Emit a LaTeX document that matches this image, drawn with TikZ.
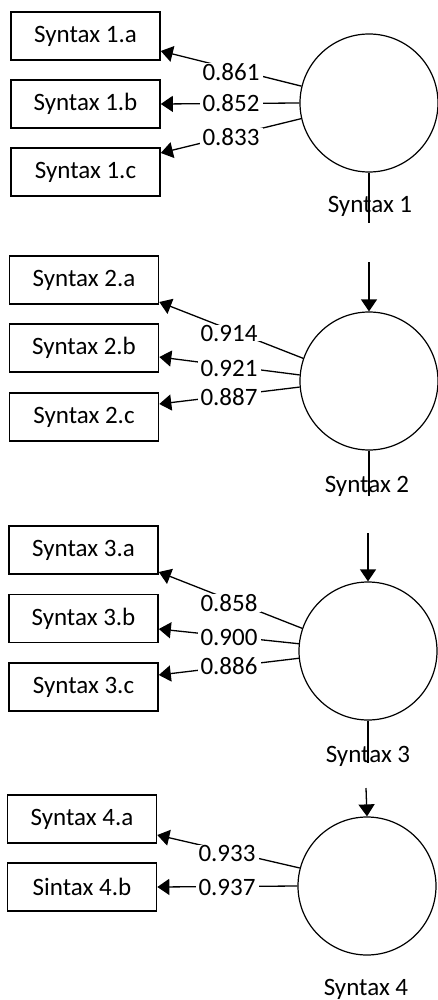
\documentclass[tikz,border=0pt]{standalone}
\usepackage{fontspec}
\setmainfont{Carlito}
\usetikzlibrary{arrows.meta,calc}
\begin{document}
\begin{tikzpicture}[x=1pt,y=-1pt,
  every node/.style={font=\fontsize{25}{28}\selectfont},
  indbox/.style={draw,line width=1.6pt,minimum width=149pt,minimum height=48pt,inner sep=0pt},
  latcirc/.style={draw,circle,line width=1.2pt,minimum size=138pt,inner sep=0pt},
  loadarr/.style={line width=1.3pt,-{Triangle[length=12pt,width=16pt]}},
  coeflbl/.style={fill=white,inner xsep=3pt,inner ysep=0pt},
  vline/.style={line width=1.3pt},
  varr/.style={line width=1.3pt,-{Triangle[length=12pt,width=16pt]}},
  latname/.style={inner sep=0pt}]
\useasboundingbox (0,0) rectangle (437,1000);
% ---------- group 1
\node[indbox] (b1a) at (85.5,36) {Syntax 1.a};
\node[indbox] (b1b) at (85.5,104) {Syntax 1.b};
\node[indbox] (b1c) at (85.5,172) {Syntax 1.c};
\node[latcirc] (c1) at (369,103) {};
\draw[loadarr] (c1.166) -- ($(b1a.east)+(0,15)$);
\draw[loadarr] (c1.west) -- (b1b.east);
\draw[loadarr] (c1.193) -- ($(b1c.east)+(0,-19)$);
\node[coeflbl] (l1a) at (231,72) {0.861};
\node[coeflbl] (l1b) at (231,103) {0.852};
\node[coeflbl] (l1c) at (231,137) {0.833};
\node[latname] (n1) at (370,206) {Syntax 1};
\coordinate (e1) at (369,223);
\draw[vline] (c1.south) -- (e1);
% ---------- group 2
\node[indbox] (b2a) at (84,280) {Syntax 2.a};
\node[indbox] (b2b) at (84,348) {Syntax 2.b};
\node[indbox] (b2c) at (84,417) {Syntax 2.c};
\node[latcirc] (c2) at (369,381) {};
\coordinate (t2) at (369,262);
\draw[varr] (t2) -- (c2.north);
\draw[loadarr] (c2.161) -- ($(b2a.east)+(0,22)$);
\draw[loadarr] (c2.175) -- ($(b2b.east)+(0,9)$);
\draw[loadarr] (c2.185) -- ($(b2c.east)+(0,-13)$);
\node[coeflbl] (l2a) at (229,333) {0.914};
\node[coeflbl] (l2b) at (229,368) {0.921};
\node[coeflbl] (l2c) at (229,397) {0.887};
\node[latname] (n2) at (367,486) {Syntax 2};
\coordinate (e2) at (369,496);
\draw[vline] (c2.south) -- (e2);
% ---------- group 3
\node[indbox] (b3a) at (83.5,550) {Syntax 3.a};
\node[indbox] (b3b) at (83.5,618.5) {Syntax 3.b};
\node[indbox] (b3c) at (83.5,687) {Syntax 3.c};
\node[latcirc] (c3) at (368,651) {};
\coordinate (t3) at (368,533);
\draw[varr] (t3) -- (c3.north);
\draw[loadarr] (c3.161) -- ($(b3a.east)+(0,22)$);
\draw[loadarr] (c3.174) -- ($(b3b.east)+(0,10.5)$);
\draw[loadarr] (c3.186) -- ($(b3c.east)+(0,-12)$);
\node[coeflbl] (l3a) at (229,603) {0.858};
\node[coeflbl] (l3b) at (229,637) {0.900};
\node[coeflbl] (l3c) at (229,666) {0.886};
\node[latname] (n3) at (368,756) {Syntax 3};
\coordinate (e3) at (368,763);
\draw[vline] (c3.south) -- (e3);
% ---------- group 4
\node[indbox] (b4a) at (82,819) {Syntax 4.a};
\node[indbox] (b4b) at (82,887) {Sintax 4.b};
\node[latcirc] (c4) at (367,886) {};
\coordinate (t4) at (366,788);
\draw[varr] (t4) -- (c4.north);
\draw[loadarr] (c4.165) -- ($(b4a.east)+(0,16)$);
\draw[loadarr] (c4.west) -- (b4b.east);
\node[coeflbl] (l4a) at (227,853) {0.933};
\node[coeflbl] (l4b) at (227,887) {0.937};
\node[latname] (n4) at (366,989) {Syntax 4};
\end{tikzpicture}
\end{document}
